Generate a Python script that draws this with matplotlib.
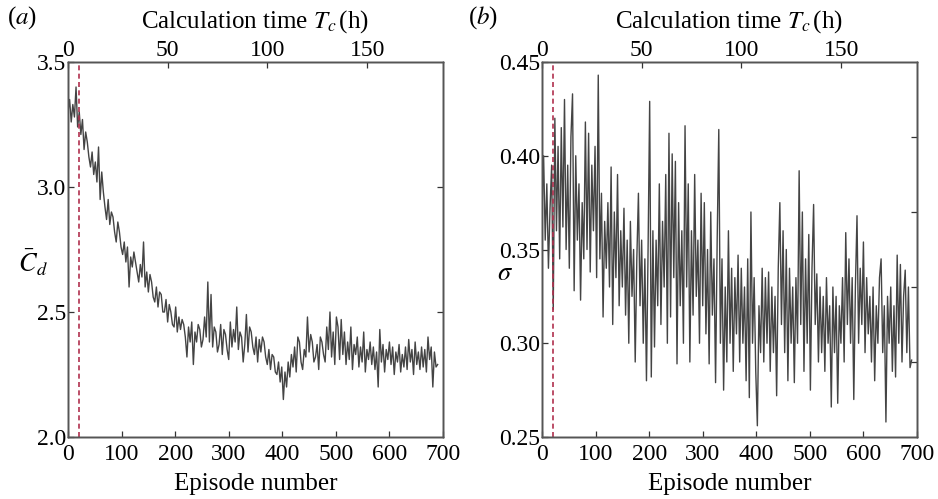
import numpy as np
import matplotlib
matplotlib.use("Agg")
import matplotlib.pyplot as plt

plt.rcParams['font.family'] = ['Liberation Serif', 'DejaVu Serif']
plt.rcParams['mathtext.fontset'] = 'stix'

# Episode numbers (every 3rd episode sampled)
episodes = np.arange(0, 691, 3)

cd_values = [
    3.30, 3.35, 3.26, 3.33, 3.28, 3.40, 3.24, 3.30, 3.21, 3.27,
    3.15, 3.22, 3.18, 3.12, 3.08, 3.14, 3.05, 3.10, 3.02, 3.16,
    2.95, 3.06, 2.98, 2.92, 2.87, 2.95, 2.85, 2.90, 2.88, 2.82,
    2.78, 2.86, 2.82, 2.76, 2.73, 2.78, 2.70, 2.76, 2.60, 2.72,
    2.68, 2.74, 2.70, 2.66, 2.62, 2.69, 2.64, 2.78, 2.60, 2.66,
    2.58, 2.65, 2.62, 2.56, 2.54, 2.60, 2.52, 2.58, 2.57, 2.50,
    2.50, 2.55, 2.46, 2.53, 2.50, 2.45, 2.44, 2.52, 2.42, 2.48,
    2.43, 2.47, 2.45, 2.40, 2.32, 2.44, 2.38, 2.46, 2.29, 2.42,
    2.38, 2.45, 2.43, 2.36, 2.39, 2.48, 2.40, 2.62, 2.38, 2.57,
    2.36, 2.44, 2.42, 2.34, 2.37, 2.45, 2.33, 2.43, 2.41, 2.35,
    2.31, 2.46, 2.36, 2.43, 2.38, 2.52, 2.35, 2.42, 2.40, 2.30,
    2.37, 2.49, 2.34, 2.44, 2.42, 2.36, 2.33, 2.40, 2.30, 2.39,
    2.34, 2.40, 2.38, 2.32, 2.29, 2.35, 2.27, 2.33, 2.32, 2.26,
    2.25, 2.30, 2.22, 2.28, 2.15, 2.26, 2.20, 2.30, 2.24, 2.33,
    2.28, 2.36, 2.26, 2.40, 2.38, 2.30, 2.27, 2.35, 2.32, 2.48,
    2.34, 2.41, 2.38, 2.30, 2.32, 2.37, 2.27, 2.40, 2.38, 2.33,
    2.30, 2.44, 2.35, 2.50, 2.32, 2.42, 2.29, 2.48, 2.44, 2.31,
    2.47, 2.33, 2.42, 2.29, 2.38, 2.31, 2.44, 2.27, 2.37, 2.33,
    2.40, 2.28, 2.36, 2.30, 2.42, 2.26, 2.35, 2.31, 2.38, 2.29,
    2.36, 2.27, 2.34, 2.20, 2.43, 2.30, 2.37, 2.26, 2.35, 2.31,
    2.38, 2.29, 2.36, 2.25, 2.34, 2.30, 2.37, 2.26, 2.33, 2.28,
    2.36, 2.27, 2.39, 2.30, 2.35, 2.25, 2.38, 2.29, 2.34, 2.27,
    2.36, 2.28, 2.35, 2.26, 2.40, 2.31, 2.36, 2.20, 2.34, 2.28,
    2.29,
]

sigma_values = [
    0.370, 0.400, 0.355, 0.385, 0.340, 0.372, 0.395, 0.318, 0.420, 0.360,
    0.405, 0.345, 0.415, 0.362, 0.430, 0.350, 0.395, 0.340, 0.410, 0.433,
    0.328, 0.400, 0.355, 0.385, 0.323, 0.375, 0.345, 0.418, 0.350, 0.412,
    0.338, 0.395, 0.360, 0.405, 0.335, 0.443, 0.345, 0.380, 0.314, 0.365,
    0.340, 0.375, 0.330, 0.394, 0.310, 0.370, 0.335, 0.390, 0.320, 0.360,
    0.330, 0.372, 0.315, 0.355, 0.300, 0.365, 0.325, 0.350, 0.290, 0.345,
    0.380, 0.320, 0.355, 0.300, 0.345, 0.280, 0.350, 0.429, 0.282, 0.360,
    0.298, 0.355, 0.320, 0.385, 0.310, 0.365, 0.330, 0.390, 0.300, 0.412,
    0.314, 0.401, 0.335, 0.397, 0.289, 0.375, 0.320, 0.360, 0.300, 0.416,
    0.330, 0.385, 0.290, 0.360, 0.315, 0.390, 0.325, 0.355, 0.300, 0.380,
    0.320, 0.375, 0.305, 0.350, 0.289, 0.370, 0.315, 0.345, 0.279, 0.355,
    0.414, 0.300, 0.345, 0.275, 0.330, 0.290, 0.360, 0.300, 0.340, 0.285,
    0.335, 0.305, 0.347, 0.290, 0.340, 0.300, 0.330, 0.280, 0.345, 0.271,
    0.370, 0.300, 0.335, 0.285, 0.256, 0.320, 0.295, 0.340, 0.290, 0.335,
    0.300, 0.338, 0.285, 0.330, 0.295, 0.325, 0.272, 0.340, 0.375, 0.310,
    0.360, 0.295, 0.350, 0.280, 0.340, 0.300, 0.330, 0.279, 0.335, 0.300,
    0.392, 0.310, 0.370, 0.285, 0.345, 0.300, 0.358, 0.275, 0.340, 0.374,
    0.310, 0.337, 0.290, 0.330, 0.295, 0.325, 0.285, 0.335, 0.300, 0.320,
    0.266, 0.330, 0.295, 0.325, 0.268, 0.320, 0.300, 0.335, 0.290, 0.359,
    0.310, 0.345, 0.300, 0.335, 0.270, 0.330, 0.368, 0.300, 0.340, 0.310,
    0.354, 0.295, 0.335, 0.305, 0.325, 0.290, 0.330, 0.280, 0.320, 0.300,
    0.335, 0.345, 0.295, 0.320, 0.258, 0.325, 0.300, 0.330, 0.285, 0.320,
    0.282, 0.347, 0.300, 0.342, 0.290, 0.325, 0.339, 0.295, 0.330, 0.287,
    0.291,
]

dashed_episode = 20
episode_ticks = [0, 100, 200, 300, 400, 500, 600, 700]
time_ticks = [0, 50, 100, 150]
time_max = 188

cd_ticks = [2.0, 2.5, 3.0, 3.5]
cd_labels = ['2.0', '2.5', '3.0', '3.5']
sigma_ticks = [0.25, 0.30, 0.35, 0.40, 0.45]
sigma_labels = ['0.25', '0.30', '0.35', '0.40', '0.45']
sigma_right_ticks = [0.29, 0.33, 0.37, 0.41]

line_color = '#444444'
dash_color = '#b0304e'
spine_color = '#555555'
FS = 18
TFS = 17

fig = plt.figure(figsize=(9.38, 4.99), dpi=100)
ax_a = fig.add_axes([68/938, 62/499, 375/938, 375/499])
ax_b = fig.add_axes([542/938, 62/499, 375/938, 375/499])


def style(ax):
    for s in ax.spines.values():
        s.set_color(spine_color)
        s.set_linewidth(1.0)
    ax.tick_params(direction='in', length=4.5, width=0.9, color='#333333',
                   labelsize=TFS, pad=3)


def setup(ax, y, ylim, yticks, ylabels, ylabel, right_ticks, label_pos):
    ax.plot(episodes, y, color=line_color, lw=1.0)
    ax.axvline(dashed_episode, color=dash_color, lw=1.2, ls=(0, (3, 2)))
    ax.set_xlim(0, 700)
    ax.set_ylim(*ylim)
    ax.set_xticks(episode_ticks)
    ax.set_yticks(yticks)
    ax.set_yticklabels(ylabels)
    ax.set_xlabel('Episode number', fontsize=FS, labelpad=6)
    ax.set_ylabel(ylabel, fontsize=FS + 1, rotation=0, ha='center', va='center')
    ax.yaxis.set_label_coords(*label_pos)
    style(ax)
    ax.tick_params(axis='y', pad=1)
    ax.tick_params(axis='x', pad=5)

    axr = ax.twinx()
    axr.set_ylim(*ylim)
    axr.set_yticks(right_ticks)
    axr.set_yticklabels([])
    style(axr)

    axt = ax.twiny()
    axt.set_xlim(0, time_max)
    axt.set_xticks(time_ticks)
    axt.set_xlabel('Calculation time $T_c\\,$(h)', fontsize=FS, labelpad=9)
    style(axt)
    axt.tick_params(pad=1)


setup(ax_a, cd_values, (2.0, 3.5), cd_ticks, cd_labels, r'$\bar{C}_d$',
      [2.5, 3.0], (-0.093, 0.465))
setup(ax_b, sigma_values, (0.25, 0.45), sigma_ticks, sigma_labels, r'$\sigma$',
      sigma_right_ticks, (-0.098, 0.435))

fig.text(7/938, 1 - 18/499, r'($a$)', fontsize=FS, va='center', ha='left')
fig.text(468/938, 1 - 18/499, r'($b$)', fontsize=FS, va='center', ha='left')

fig.savefig('out.png', dpi=100)
